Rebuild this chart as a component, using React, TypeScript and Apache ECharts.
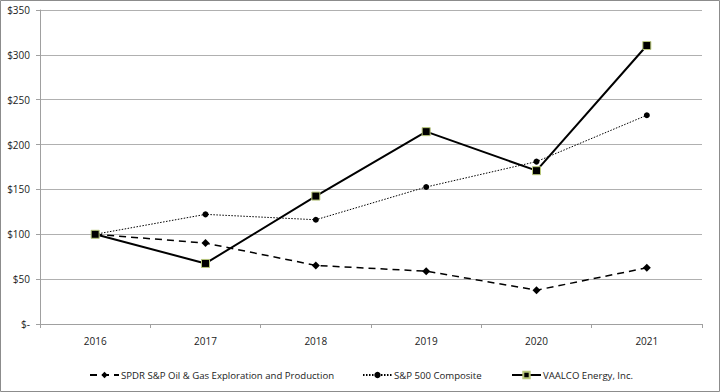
import React, { useEffect, useRef } from "react";
import * as echarts from "echarts";

const categories = ["2016", "2017", "2018", "2019", "2020", "2021"];
const spdrValues = [100, 90.2, 65.3, 58.9, 37.7, 62.6];
const sp500Values = [100, 122.2, 116.2, 152.7, 181, 232.7];
const vaalcoValues = [100, 67.5, 142.6, 214.4, 170.9, 310.4];
const seriesNames = [
  "SPDR S&P Oil & Gas Exploration and Production",
  "S&P 500 Composite",
  "VAALCO Energy, Inc.",
];

export default function App() {
  const ref = useRef<HTMLDivElement>(null);
  useEffect(() => {
    document.body.style.margin = "0";
    const chart = echarts.init(ref.current!, null, { renderer: "svg" });
    const font = "'Open Sans', 'Noto Sans', sans-serif";
    const legendLefts = [87, 360, 509];
    chart.setOption({
      animation: false,
      backgroundColor: "#ffffff",
      textStyle: { fontFamily: font },
      graphic: [
        {
          type: "rect",
          shape: { x: 0.5, y: 0.5, width: 719, height: 391 },
          style: { fill: "none", stroke: "#8c8c8c", lineWidth: 1 },
          silent: true,
        },
      ],
      grid: { left: 40, right: 18, top: 10, bottom: 68, containLabel: false },
      legend: seriesNames.map((n, i) => ({
        left: legendLefts[i],
        top: 368,
        padding: 2,
        itemWidth: 29,
        itemHeight: 8,
        textStyle: { fontSize: 9.6, color: "#222", fontFamily: font, padding: [0, 0, 0, -3] },
        data: [n],
      })),
      xAxis: {
        type: "category",
        data: categories,
        boundaryGap: true,
        axisLine: { lineStyle: { color: "#a0a0a0", width: 1 } },
        axisTick: { show: true, length: 4, lineStyle: { color: "#a0a0a0" } },
        axisLabel: { fontSize: 10, color: "#222", margin: 12, fontFamily: font },
      },
      yAxis: {
        type: "value",
        min: 0,
        max: 350,
        interval: 50,
        axisLine: { show: true, lineStyle: { color: "#a0a0a0", width: 1 } },
        axisTick: { show: true, length: 4, lineStyle: { color: "#a0a0a0" } },
        splitLine: { lineStyle: { color: "#b0b0b0", width: 1 } },
        axisLabel: {
          fontSize: 10,
          color: "#222",
          margin: 10,
          fontFamily: font,
          formatter: (v: number) => (v === 0 ? "$-" : "$" + v),
        },
      },
      series: [
        {
          name: seriesNames[0],
          type: "line",
          data: spdrValues,
          symbol: "diamond",
          symbolSize: 8,
          itemStyle: { color: "#000" },
          lineStyle: { color: "#000", width: 1.5, type: [7, 5] },
          z: 2,
        },
        {
          name: seriesNames[1],
          type: "line",
          data: sp500Values,
          symbol: "circle",
          symbolSize: 6,
          itemStyle: { color: "#000" },
          lineStyle: { color: "#000", width: 1, type: [1.5, 1.5] },
          z: 3,
        },
        {
          name: seriesNames[2],
          type: "line",
          data: vaalcoValues,
          symbol: "rect",
          symbolSize: 8,
          itemStyle: { color: "#000", borderColor: "#b8c77a", borderWidth: 1 },
          lineStyle: { color: "#000", width: 2 },
          z: 4,
        },
      ],
    });
    return () => chart.dispose();
  }, []);
  return (
    <div
      ref={ref}
      style={{ position: "absolute", left: 0, top: 0, width: 720, height: 392 }}
    />
  );
}
